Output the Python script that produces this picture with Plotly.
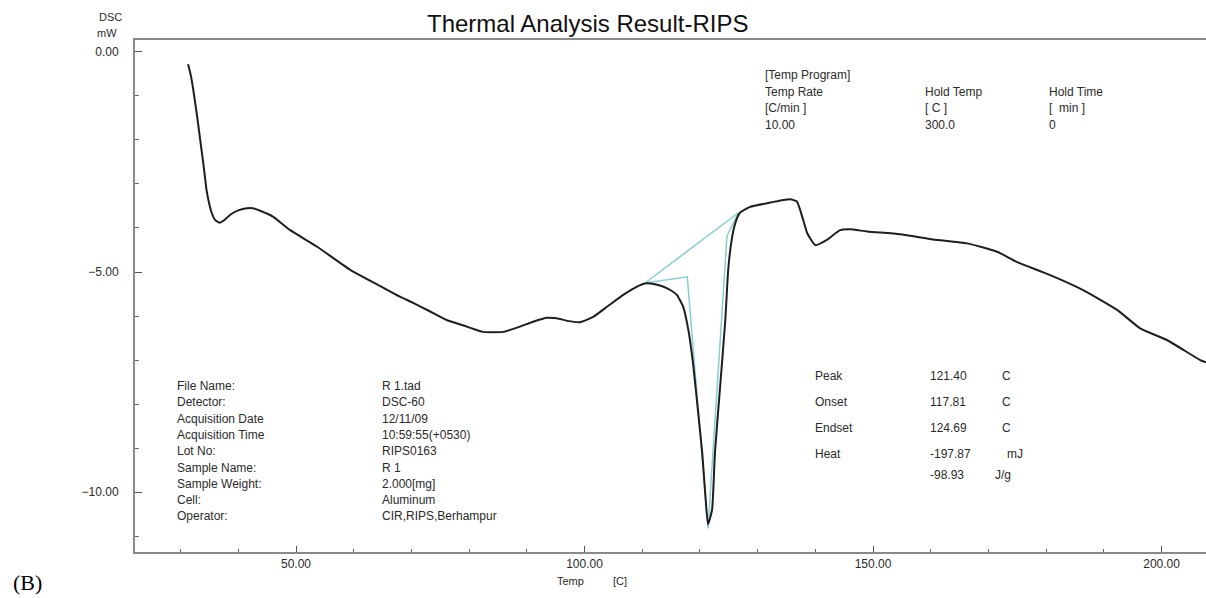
import plotly.graph_objects as go

# DSC trace: temperature [C] and heat flow [mW]
temp = [31.3, 31.8, 32.2, 32.8, 33.4, 34.0, 34.5, 35.0, 35.4, 36.0, 36.8, 37.6, 38.6,
        40.0, 41.5, 42.5, 44.0, 46.0, 49.0, 53.6, 59.4, 64.6, 68.0, 70.3, 73.0, 76.1,
        79.6, 82.4, 85.9, 88.8, 91.1, 93.5, 95.2, 97.0, 99.2, 101.5, 103.9, 106.7,
        109.1, 110.5, 112.0, 113.6, 115.0, 116.0, 117.1, 118.0, 118.8, 119.7, 120.4,
        120.9, 121.4, 122.1, 122.6, 123.5, 124.4, 124.9, 125.5, 126.1, 126.9, 128.7,
        131.6, 135.6, 136.8, 137.9, 138.6, 140.0, 142.0, 144.3, 146.0, 149.0, 154.7,
        160.4, 166.3, 171.5, 174.9, 180.7, 186.4, 192.3, 196.3, 201.0, 206.7, 207.7]
dsc = [-0.28, -0.55, -0.86, -1.40, -2.00, -2.60, -3.14, -3.47, -3.66, -3.82, -3.88, -3.82, -3.70,
       -3.60, -3.55, -3.55, -3.62, -3.74, -4.05, -4.42, -4.95, -5.32, -5.56, -5.70, -5.88, -6.09,
       -6.24, -6.36, -6.36, -6.24, -6.13, -6.04, -6.05, -6.11, -6.14, -6.02, -5.79, -5.52,
       -5.33, -5.26, -5.27, -5.33, -5.42, -5.52, -5.79, -6.32, -7.07, -8.20, -9.11,
       -10.00, -10.73, -10.40, -9.11, -7.60, -6.09, -4.95, -4.27, -3.90, -3.66, -3.52,
       -3.44, -3.35, -3.40, -3.82, -4.12, -4.39, -4.27, -4.05, -4.03, -4.08, -4.14,
       -4.26, -4.35, -4.54, -4.77, -5.07, -5.41, -5.86, -6.28, -6.55, -7.00, -7.05]

# Peak analysis construction lines
baseline_t = [110.5, 126.6]
baseline_y = [-5.25, -3.66]
onset_t = [110.5, 117.81, 121.4]
onset_y = [-5.25, -5.11, -10.82]
endset_t = [121.4, 124.69, 126.6]
endset_y = [-10.82, -4.18, -3.66]

info_labels = ["File Name:", "Detector:", "Acquisition Date", "Acquisition Time", "Lot No:",
               "Sample Name:", "Sample Weight:", "Cell:", "Operator:"]
info_values = ["R 1.tad", "DSC-60", "12/11/09", "10:59:55(+0530)", "RIPS0163",
               "R 1", "2.000[mg]", "Aluminum", "CIR,RIPS,Berhampur"]

peak_labels = ["Peak", "Onset", "Endset", "Heat"]
peak_values = ["121.40", "117.81", "124.69", "-197.87"]
peak_units = ["C", "C", "C", "mJ"]
heat_per_g = "-98.93"

program_cols = [["[Temp Program]", "Temp Rate", "[C/min ]", "10.00"],
                ["", "Hold Temp", "[ C ]", "300.0"],
                ["", "Hold Time", "[  min ]", "0"]]

W, H = 1206, 598
ML, MR, MT, MB = 135, 0, 40, 46
FONT = "Liberation Sans Narrow, Arial Narrow, Liberation Sans, Arial, sans-serif"
TXT = "#2a2a2a"


def px(x):
    return (x - ML) / (W - ML - MR)


def py(y):
    return (H - MB - y) / (H - MT - MB)


fig = go.Figure()
for tx, ty in [(baseline_t, baseline_y), (onset_t, onset_y), (endset_t, endset_y)]:
    fig.add_trace(go.Scatter(x=tx, y=ty, mode="lines",
                             line=dict(color="#86cfd0", width=1.5), hoverinfo="skip"))
fig.add_trace(go.Scatter(x=temp, y=dsc, mode="lines",
                         line=dict(color="#1e1e1e", width=2, shape="spline", smoothing=0.5)))

ann = []


def text(x, y, s, size=12, xanchor="left", family=FONT, color=TXT):
    ann.append(dict(x=px(x), y=py(y), xref="paper", yref="paper", text=s, showarrow=False,
                    xanchor=xanchor, yanchor="middle", font=dict(family=family, size=size, color=color)))


text(587, 23, "Thermal Analysis Result-RIPS", size=24, xanchor="center", color="#111")
text(110, 17, "DSC", size=11, xanchor="center")
text(107, 33, "mW", size=11, xanchor="center")
text(570, 581, "Temp", size=11, xanchor="center")
text(620, 581, "[C]", size=11, xanchor="center")
text(11, 582, "(B)", size=22, family="Liberation Serif, Times New Roman, serif", color="#000")

for i, (lab, val) in enumerate(zip(info_labels, info_values)):
    y = 386 + 16.3 * i
    text(175, y, lab)
    text(380, y, val)

for i, (lab, val, unit) in enumerate(zip(peak_labels, peak_values, peak_units)):
    y = 376 + 26 * i
    text(813, y, lab)
    text(928, y, val)
    text(1000 if unit == "C" else 1005, y, unit)
text(928, 475, heat_per_g)
text(993, 475, "J/g")

for cx, col in zip([763, 923, 1047], program_cols):
    for j, s in enumerate(col):
        if s:
            text(cx, 75 + 16.7 * j, s)

fig.update_layout(
    width=W, height=H,
    margin=dict(l=ML, r=MR, t=MT, b=MB),
    paper_bgcolor="white", plot_bgcolor="white",
    showlegend=False,
    annotations=ann,
    xaxis=dict(range=[22.1, 207.7], tickmode="linear", tick0=0, dtick=50, tickformat=".2f",
               ticks="inside", ticklen=6, tickwidth=1, tickcolor="#555",
               minor=dict(tickmode="linear", tick0=0, dtick=10, ticks="inside", ticklen=3,
                          tickwidth=1, tickcolor="#666"),
               showline=True, linecolor="#8a8a8a", linewidth=2, mirror=True,
               showgrid=False, zeroline=False,
               tickfont=dict(family=FONT, size=12, color=TXT)),
    yaxis=dict(range=[-11.36, 0.27], tickmode="linear", tick0=0, dtick=5, tickformat=".2f",
               ticks="inside", ticklen=7, tickwidth=1, tickcolor="#555",
               minor=dict(tickmode="linear", tick0=0, dtick=1, ticks="inside", ticklen=4,
                          tickwidth=1, tickcolor="#666"),
               showline=True, linecolor="#8a8a8a", linewidth=2,
               showgrid=False, zeroline=False, ticklabelstandoff=12,
               tickfont=dict(family=FONT, size=12, color=TXT)),
)

fig.write_html("out.html")
